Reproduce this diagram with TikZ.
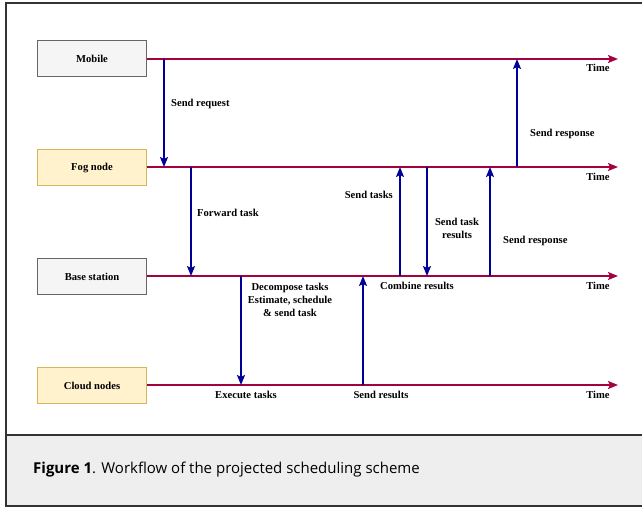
\documentclass[tikz,border=0pt]{standalone}
\usepackage{fontspec}
\setmainfont{Liberation Serif}
\newfontfamily\capfont{Open Sans}
\usetikzlibrary{arrows.meta, positioning}

\definecolor{lanecol}{HTML}{A50040}
\definecolor{msgcol}{HTML}{000099}
\definecolor{greyfill}{HTML}{F5F5F5}
\definecolor{greydraw}{HTML}{666666}
\definecolor{yelfill}{HTML}{FFF2CC}
\definecolor{yeldraw}{HTML}{D6B656}
\definecolor{capfill}{HTML}{EEEEEE}

\tikzset{
  actor/.style={rectangle, line width=1.7pt, minimum width=109pt, minimum height=36pt, inner sep=0pt},
  greyactor/.style={actor, draw=greydraw, fill=greyfill},
  yelactor/.style={actor, draw=yeldraw, fill=yelfill},
  lane/.style={draw=lanecol, line width=1.8pt, -{Stealth[length=10pt, width=8pt, inset=2pt]}},
  msg/.style={draw=msgcol, line width=1.8pt, -{Stealth[length=10pt, width=8pt, inset=2pt]}},
  lbl/.style={inner sep=0pt, align=center}
}

\begin{document}
\begin{tikzpicture}[x=1pt, y=-1pt, font=\bfseries\fontsize{10.6}{13}\selectfont]
  \useasboundingbox (0,0) rectangle (642,507);
  % frame and caption band
  \fill[capfill] (6,435) rectangle (644,506);
  \draw[line width=1.5pt, black!80] (6,3) rectangle (644,506);
  \draw[line width=1.2pt, black!80] (6,435) -- (644,435);
  \node[lbl, anchor=west, font=\capfont\fontsize{15}{18}\selectfont] (cap) at (33,470)
    {\textbf{Figure 1}. Workflow of the projected scheduling scheme};

  % actors
  \node[greyactor] (mob)   at (92,58.5)  {Mobile};
  \node[yelactor]  (fog)   at (92,167.5) {Fog node};
  \node[greyactor] (base)  at (92,276.5) {Base station};
  \node[yelactor]  (cloud) at (92,385.5) {Cloud nodes};

  % time lines
  \coordinate (mobT)   at (618,59);
  \coordinate (fogT)   at (618,167);
  \coordinate (baseT)  at (618,276);
  \coordinate (cloudT) at (618,385);
  \draw[lane] (mob.east |- mobT) -- (mobT);
  \draw[lane] (fog.east |- fogT) -- (fogT);
  \draw[lane] (base.east |- baseT) -- (baseT);
  \draw[lane] (cloud.east |- cloudT) -- (cloudT);
  \node[lbl] (tm1) at (598,68)  {Time};
  \node[lbl] (tm2) at (598,177) {Time};
  \node[lbl] (tm3) at (598,286) {Time};
  \node[lbl] (tm4) at (598,395) {Time};

  % messages
  \coordinate (req1) at (164,59);   \coordinate (req2) at (164,167);
  \coordinate (fwd1) at (191,167);  \coordinate (fwd2) at (191,276);
  \coordinate (dec1) at (241,276);  \coordinate (dec2) at (241,385);
  \coordinate (res1) at (363,385);  \coordinate (res2) at (363,276);
  \coordinate (stk1) at (400,276);  \coordinate (stk2) at (400,167);
  \coordinate (str1) at (427,167);  \coordinate (str2) at (427,276);
  \coordinate (rsp1) at (490,276);  \coordinate (rsp2) at (490,167);
  \coordinate (rsq1) at (517,167);  \coordinate (rsq2) at (517,59);
  \draw[msg] (req1) -- (req2);
  \draw[msg] (fwd1) -- (fwd2);
  \draw[msg] (dec1) -- (dec2);
  \draw[msg] (res1) -- (res2);
  \draw[msg] (stk1) -- (stk2);
  \draw[msg] (str1) -- (str2);
  \draw[msg] (rsp1) -- (rsp2);
  \draw[msg] (rsq1) -- (rsq2);

  % labels
  \node[lbl, anchor=west] (lreq) at (171,104) {Send request};
  \node[lbl, anchor=west] (lfwd) at (197,213) {Forward task};
  \node[lbl] (ldec) at (290,300) {Decompose tasks\\Estimate, schedule\\\& send task};
  \node[lbl] (lexe) at (246,395) {Execute tasks};
  \node[lbl] (lres) at (381,395) {Send results};
  \node[lbl, anchor=east] (lstk) at (393,195) {Send tasks};
  \node[lbl] (lstr) at (457,228) {Send task\\results};
  \node[lbl, anchor=west] (lrsp) at (503,241) {Send response};
  \node[lbl, anchor=west] (lrsq) at (530,134) {Send response};
  \node[lbl] (lcmb) at (417,286) {Combine results};
\end{tikzpicture}
\end{document}
